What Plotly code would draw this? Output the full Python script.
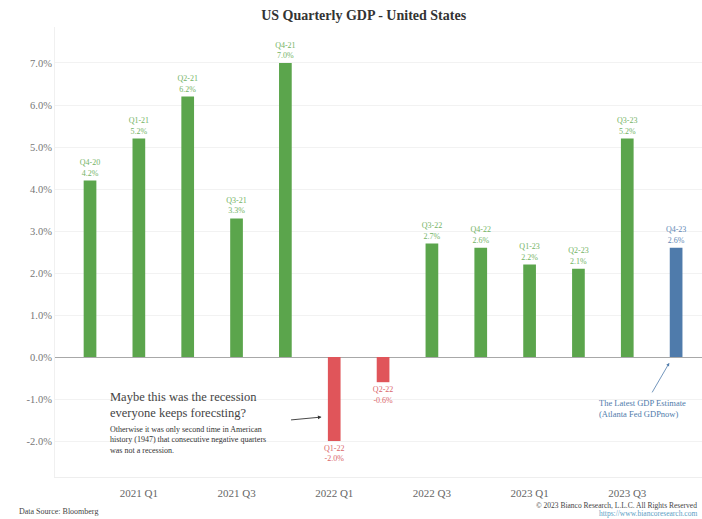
import plotly.graph_objects as go

# Quarterly real GDP growth (annualized, %)
quarters = ["Q4-20", "Q1-21", "Q2-21", "Q3-21", "Q4-21", "Q1-22", "Q2-22",
            "Q3-22", "Q4-22", "Q1-23", "Q2-23", "Q3-23", "Q4-23"]
gdp = [4.2, 5.2, 6.2, 3.3, 7.0, -2.0, -0.6, 2.7, 2.6, 2.2, 2.1, 5.2, 2.6]
estimate_flags = [False] * 12 + [True]   # last value is the GDPNow estimate

tick_positions = [1, 3, 5, 7, 9, 11]
tick_labels = ["2021 Q1", "2021 Q3", "2022 Q1", "2022 Q3", "2023 Q1", "2023 Q3"]
y_ticks = [-2, -1, 0, 1, 2, 3, 4, 5, 6, 7]

GREEN, RED, BLUE = "#5ba54c", "#e0555a", "#4f7bab"
GREEN_T, RED_T, BLUE_T = "#74b365", "#d9666a", "#5f87b5"
FONT = "Georgia, 'Liberation Serif', 'DejaVu Serif', serif"

bar_colors, text_colors = [], []
for v, est in zip(gdp, estimate_flags):
    if est:
        bar_colors.append(BLUE); text_colors.append(BLUE_T)
    elif v < 0:
        bar_colors.append(RED); text_colors.append(RED_T)
    else:
        bar_colors.append(GREEN); text_colors.append(GREEN_T)

idx = list(range(len(quarters)))
labels = [f"{q}<br>{v:.1f}%" for q, v in zip(quarters, gdp)]

fig = go.Figure(go.Bar(
    x=idx, y=gdp, width=0.26,
    marker=dict(color=bar_colors, line=dict(width=0)),
    text=labels, textposition="outside", cliponaxis=False,
    textfont=dict(family=FONT, size=8, color=text_colors),
    constraintext="none", hoverinfo="skip",
))

# plot area in pixels (for placing free text in paper coordinates)
L, R, T, B = 55, 702, 27, 477
W, H = R - L, B - T
def px(x):
    return (x - L) / W
def py(y):
    return (B - y) / H

annotations = [
    dict(x=px(108), y=py(388), xref="paper", yref="paper", xanchor="left", yanchor="top",
         align="left", showarrow=False,
         text="Maybe this was the recession<br>everyone keeps forecsting?",
         font=dict(family=FONT, size=12.5, color="#444444")),
    dict(x=px(108), y=py(423), xref="paper", yref="paper", xanchor="left", yanchor="top",
         align="left", showarrow=False,
         text="Otherwise it was only second time in American<br>history (1947) that consecutive negative quarters<br>was not a recession.",
         font=dict(family=FONT, size=8, color="#333333")),
    # arrow pointing to the Q1-22 contraction
    dict(x=4.74, y=-1.43, xref="x", yref="y", text="", showarrow=True,
         ax=-32, ay=3, arrowhead=2, arrowsize=0.8, arrowwidth=0.9, arrowcolor="#333333"),
    # arrow pointing to the GDPNow estimate
    dict(x=11.86, y=-0.14, xref="x", yref="y", text="", showarrow=True,
         ax=-18, ay=31, arrowhead=2, arrowsize=0.8, arrowwidth=0.8, arrowcolor="#4f7bab"),
    dict(x=px(597), y=py(396), xref="paper", yref="paper", xanchor="left", yanchor="top",
         align="left", showarrow=False,
         text="The Latest GDP Estimate<br>(Atlanta Fed GDPnow)",
         font=dict(family=FONT, size=8.5, color=BLUE)),
    dict(x=px(17), y=py(511), xref="paper", yref="paper", xanchor="left", yanchor="middle",
         showarrow=False, text="Data Source: Bloomberg",
         font=dict(family=FONT, size=8, color="#444444")),
    dict(x=px(699), y=py(505), xref="paper", yref="paper", xanchor="right", yanchor="middle",
         showarrow=False, text="© 2023 Bianco Research, L.L.C. All Rights Reserved",
         font=dict(family=FONT, size=7.5, color="#444444")),
    dict(x=px(699), y=py(513.5), xref="paper", yref="paper", xanchor="right", yanchor="middle",
         showarrow=False, text="https://www.biancoresearch.com",
         font=dict(family=FONT, size=7.5, color="#5b9ec4")),
]

fig.update_layout(
    width=702, height=519,
    margin=dict(l=L, r=702 - R, t=T, b=519 - B),
    paper_bgcolor="white", plot_bgcolor="white",
    showlegend=False,
    title=dict(text="<b>US Quarterly GDP - United States</b>", x=0.518, xref="container",
               xanchor="center", y=1 - 15 / 519, yref="container", yanchor="middle",
               font=dict(family=FONT, size=14, color="#333333")),
    xaxis=dict(range=[-0.717, 12.53], tickvals=tick_positions, ticktext=tick_labels,
               showgrid=False, zeroline=False, showline=True, linecolor="#eeeeee",
               ticks="", ticklabelstandoff=6,
               tickfont=dict(family=FONT, size=11, color="#666666")),
    yaxis=dict(range=[-2.857, 7.857], tickvals=y_ticks,
               ticktext=[f"{v:.1f}%" for v in y_ticks],
               showgrid=True, gridcolor="#f2f2f2", gridwidth=1,
               zeroline=True, zerolinecolor="#a8a8a8", zerolinewidth=1.2,
               showline=True, linecolor="#f0f0f0", ticks="",
               tickfont=dict(family=FONT, size=10.5, color="#777777")),
    annotations=annotations,
)

fig.write_html("out.html")
